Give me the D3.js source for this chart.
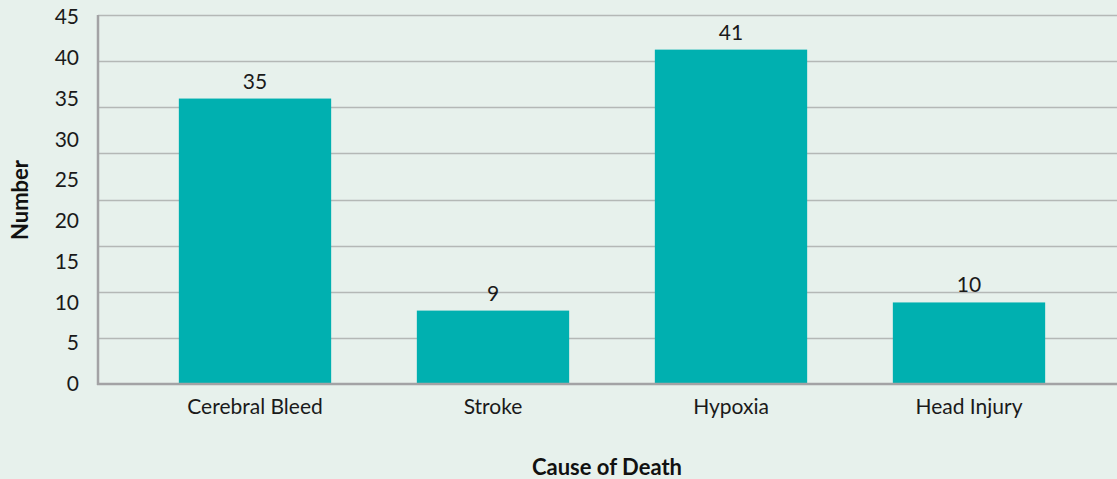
<!DOCTYPE html>
<html>
    <head>
        <meta charset="utf-8">
        <title>Cause of Death</title>
        <style>
            body { margin: 0; background: #e7f1ec; }
            svg { display: block; font-family: Lato, "Open Sans", sans-serif; }
        </style>
    </head>
    <body>
        <script src="https://cdnjs.cloudflare.com/ajax/libs/d3/7.8.5/d3.min.js"></script>
        <script type="text/javascript">
            var categories = ["Cerebral Bleed", "Stroke", "Hypoxia", "Head Injury"];
            var values = [35, 9, 41, 10];
            var tickValues = [0, 5, 10, 15, 20, 25, 30, 35, 40, 45];

            var w = 1117, h = 479;
            var plotLeft = 98, plotRight = 1117, plotTop = 17, plotBottom = 384;

            var svg = d3.select("body").append("svg")
                .attr("width", w)
                .attr("height", h);

            var x = d3.scaleBand()
                .domain(categories)
                .range([136, 1088])
                .paddingInner(0.36)
                .paddingOuter(0.18);

            var y = d3.scaleLinear()
                .domain([0, 45])
                .range([plotBottom, plotTop]);

            // gridlines in the original are spaced evenly on their own (8 bands)
            var grid = d3.scaleLinear().domain([0, 8]).range([plotBottom, 15]);
            svg.append("g").selectAll("line")
                .data(d3.range(1, 9))
                .enter().append("line")
                    .attr("x1", plotLeft)
                    .attr("x2", plotRight)
                    .attr("y1", function(d) { return Math.round(grid(d)) + 0.5; })
                    .attr("y2", function(d) { return Math.round(grid(d)) + 0.5; })
                    .attr("stroke", "#b4b8b6")
                    .attr("stroke-width", 1.3);

            // bars
            svg.append("g").selectAll("rect")
                .data(values)
                .enter().append("rect")
                    .attr("x", function(d, i) { return x(categories[i]); })
                    .attr("width", x.bandwidth())
                    .attr("y", function(d) { return y(d); })
                    .attr("height", function(d) { return plotBottom - y(d); })
                    .attr("fill", "#00b0b0");

            // value labels
            svg.append("g").selectAll("text")
                .data(values)
                .enter().append("text")
                    .attr("x", function(d, i) { return x(categories[i]) + x.bandwidth() / 2; })
                    .attr("y", function(d) { return y(d) - 10; })
                    .attr("text-anchor", "middle")
                    .attr("font-size", 21)
                    .attr("fill", "#1a1a1a")
                    .text(function(d) { return d; });

            // y axis
            var yAxis = svg.append("g")
                .attr("transform", "translate(" + plotLeft + ",0)")
                .call(d3.axisLeft(y).tickValues(tickValues).tickSize(0).tickPadding(19));
            yAxis.select(".domain").remove();
            yAxis.selectAll("text")
                .attr("font-size", 21)
                .attr("font-family", "Lato, sans-serif")
                .attr("fill", "#1a1a1a");

            svg.append("line")
                .attr("x1", plotLeft).attr("x2", plotLeft)
                .attr("y1", 15).attr("y2", plotBottom + 1)
                .attr("stroke", "#a3a3a5")
                .attr("stroke-width", 2.5);

            // x axis
            var xAxis = svg.append("g")
                .attr("transform", "translate(0," + plotBottom + ")")
                .call(d3.axisBottom(x).tickSize(0).tickPadding(15));
            xAxis.select(".domain").remove();
            xAxis.selectAll("text")
                .attr("font-size", 21)
                .attr("font-family", "Lato, sans-serif")
                .attr("fill", "#1a1a1a");

            svg.append("line")
                .attr("x1", plotLeft - 1).attr("x2", plotRight)
                .attr("y1", plotBottom).attr("y2", plotBottom)
                .attr("stroke", "#a3a3a5")
                .attr("stroke-width", 2.5);

            // axis titles
            svg.append("text")
                .attr("x", 607)
                .attr("y", 475)
                .attr("text-anchor", "middle")
                .attr("font-size", 22)
                .attr("font-weight", "bold")
                .attr("fill", "#111")
                .text("Cause of Death");

            svg.append("text")
                .attr("transform", "translate(28,200) rotate(-90)")
                .attr("text-anchor", "middle")
                .attr("font-size", 22)
                .attr("font-weight", "bold")
                .attr("fill", "#111")
                .text("Number");
        </script>
    </body>
</html>
